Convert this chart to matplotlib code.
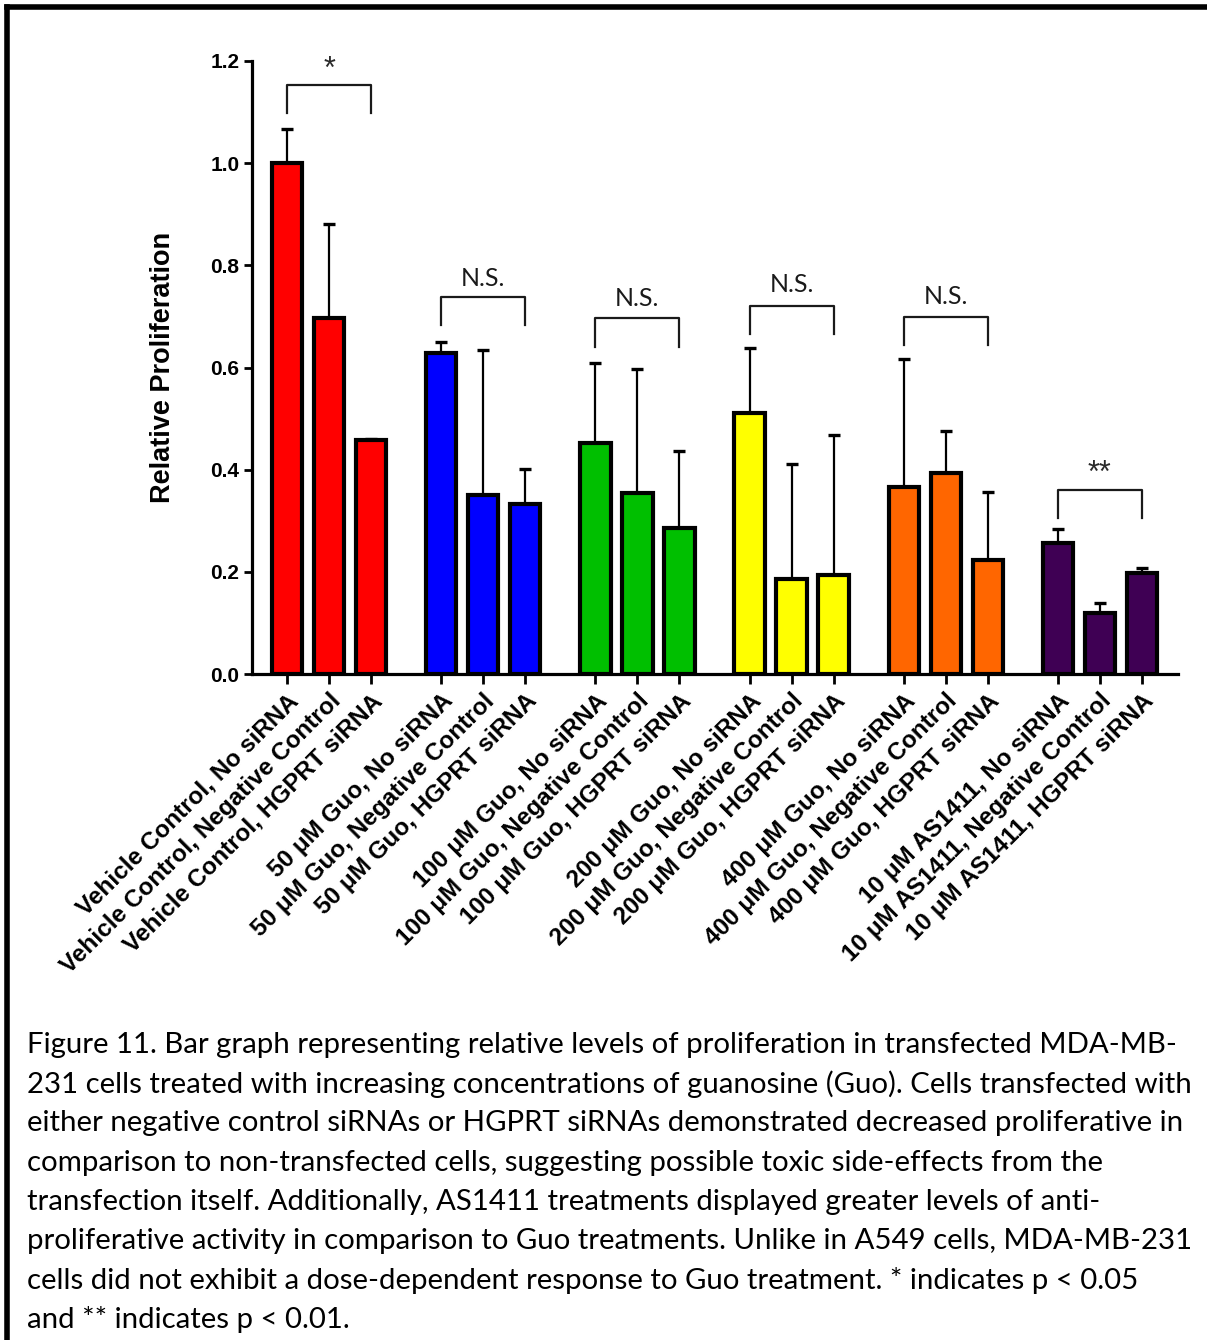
import numpy as np
import matplotlib.pyplot as plt
from matplotlib.lines import Line2D

# bar data
labels = [
    'Vehicle Control, No siRNA', 'Vehicle Control, Negative Control', 'Vehicle Control, HGPRT siRNA',
    '50 μM Guo, No siRNA', '50 μM Guo, Negative Control', '50 μM Guo, HGPRT siRNA',
    '100 μM Guo, No siRNA', '100 μM Guo, Negative Control', '100 μM Guo, HGPRT siRNA',
    '200 μM Guo, No siRNA', '200 μM Guo, Negative Control', '200 μM Guo, HGPRT siRNA',
    '400 μM Guo, No siRNA', '400 μM Guo, Negative Control', '400 μM Guo, HGPRT siRNA',
    '10 μM AS1411, No siRNA', '10 μM AS1411, Negative Control', '10 μM AS1411, HGPRT siRNA',
]
means = [1.000, 0.697, 0.458, 0.628, 0.350, 0.333, 0.453, 0.354, 0.286,
         0.511, 0.186, 0.194, 0.367, 0.394, 0.223, 0.256, 0.119, 0.198]
errs = [0.066, 0.184, 0.003, 0.022, 0.284, 0.068, 0.156, 0.243, 0.151,
        0.127, 0.226, 0.274, 0.250, 0.082, 0.133, 0.028, 0.020, 0.009]
group_colors = ['#FF0000', '#0000FF', '#00BF00', '#FFFF00', '#FF6600', '#3F0054']

# significance brackets, one per group
sig_text = ['*', 'N.S.', 'N.S.', 'N.S.', 'N.S.', '**']
sig_top = [1.153, 0.738, 0.696, 0.720, 0.699, 0.360]
sig_leg = [1.098, 0.683, 0.641, 0.666, 0.644, 0.305]
sig_texty = [1.200, 0.775, 0.736, 0.762, 0.739, 0.411]

caption = [
    'Figure 11. Bar graph representing relative levels of proliferation in transfected MDA-MB-',
    '231 cells treated with increasing concentrations of guanosine (Guo). Cells transfected with',
    'either negative control siRNAs or HGPRT siRNAs demonstrated decreased proliferative in',
    'comparison to non-transfected cells, suggesting possible toxic side-effects from the',
    'transfection itself. Additionally, AS1411 treatments displayed greater levels of anti-',
    'proliferative activity in comparison to Guo treatments. Unlike in A549 cells, MDA-MB-231',
    'cells did not exhibit a dose-dependent response to Guo treatment. * indicates p < 0.05',
    'and ** indicates p < 0.01.',
]

plt.rcParams['font.family'] = 'Liberation Sans'

fig = plt.figure(figsize=(12.07, 13.4), dpi=100)
ax = fig.add_axes([252/1207, 1 - 674/1340, (1178-252)/1207, (674-61)/1340])

n_groups = len(group_colors)
step = 154/42
x = np.array([g*step + i for g in range(n_groups) for i in range(3)])
colors = [c for c in group_colors for _ in range(3)]

ax.errorbar(x, means, yerr=[np.zeros(len(errs)), errs], fmt='none', ecolor='black',
            elinewidth=1.6, capsize=4.3, capthick=2.4, zorder=1)
ax.bar(x, means, width=0.72, color=colors, edgecolor='black', linewidth=3, zorder=2)

for g in range(n_groups):
    x0, x1 = x[g*3], x[g*3 + 2]
    ax.plot([x0, x0, x1, x1], [sig_leg[g], sig_top[g], sig_top[g], sig_leg[g]],
            color='#1a1a1a', lw=1.6, clip_on=False, zorder=3)
    if sig_text[g] == 'N.S.':
        ax.text((x0+x1)/2, sig_texty[g], sig_text[g], ha='center', va='center',
                fontsize=18, family='Lato', color='#1a1a1a')
    else:
        # asterisk glyph sits high, so place by baseline
        ax.text((x0+x1)/2, sig_texty[g] - 0.034, sig_text[g], ha='center', va='baseline',
                fontsize=22, color='#2a2a2a')

ax.set_xlim(x[0] - 35/42, x[-1] + 36/42)
ax.set_ylim(0, 1.2)
ax.set_yticks([0.0, 0.2, 0.4, 0.6, 0.8, 1.0, 1.2])
ax.set_yticklabels(['0.0', '0.2', '0.4', '0.6', '0.8', '1.0', '1.2'], fontsize=15, fontweight='bold')
ax.set_xticks(x)
ax.set_xticklabels(labels, rotation=45, ha='right', rotation_mode='anchor',
                   fontsize=17.5, fontweight='bold')
ax.tick_params(axis='y', length=6, width=2, pad=3)
ax.tick_params(axis='x', length=7, width=2, pad=4)
ax.spines['top'].set_visible(False)
ax.spines['right'].set_visible(False)
ax.spines['left'].set_linewidth(2.3)
ax.spines['bottom'].set_linewidth(2.3)
ax.set_ylabel('Relative Proliferation', fontsize=19.5, fontweight='bold', labelpad=25)

# frame lines round the figure
fig.add_artist(Line2D([7/1207, 1.0], [1 - 7/1340, 1 - 7/1340], color='black', lw=4))
fig.add_artist(Line2D([7/1207, 7/1207], [0, 1 - 7/1340], color='black', lw=4))

for k, line in enumerate(caption):
    fig.text(27/1207, 1 - (1045 + 39.2*k)/1340, line, ha='left', va='center',
             fontsize=21.2, family='Lato', color='black')

fig.savefig('out.png', dpi=100)
